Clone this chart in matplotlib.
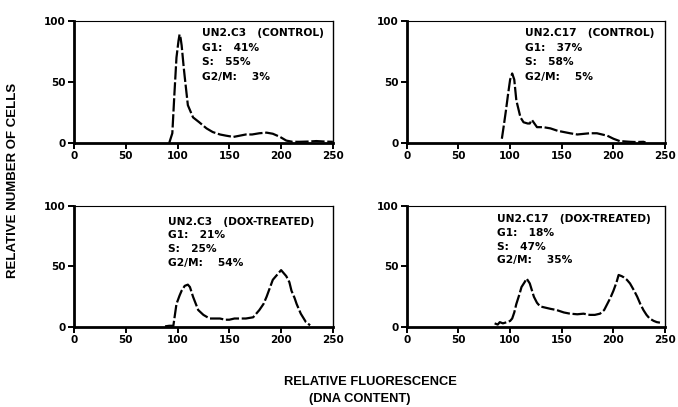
import matplotlib.pyplot as plt

plt.rcParams['font.family'] = ['DejaVu Sans']

# DNA histograms (relative fluorescence, relative number of cells)
c3_ctrl_x = [92, 95, 97, 99, 101, 102, 103, 104, 106, 107, 110, 115, 121, 128, 134, 141, 147,
             154, 160, 166, 172, 179, 186, 192, 199, 205, 211, 218, 226, 234, 242, 250]
c3_ctrl_y = [0, 8, 40, 70, 84, 89, 86, 80, 62, 54, 31, 21, 17, 12, 9, 7, 6,
             5, 6, 7, 7, 8, 8.5, 7.6, 5, 2, 1, 1, 1.2, 1.6, 1.2, 1]

c17_ctrl_x = [92, 94, 96, 98, 100, 102, 104, 106, 110, 113, 117, 119, 121, 126, 132, 139, 146,
              152, 158, 165, 171, 177, 184, 189, 194, 200, 206, 216, 222, 229, 231]
c17_ctrl_y = [3.5, 15, 27, 40, 52, 57, 52, 35, 21, 17, 16, 16, 19, 13, 13, 12, 10,
              9, 8, 7, 7.5, 8, 8, 7, 6, 3.5, 1.6, 1, 0.8, 1, 0.5]

c3_dox_x = [88, 92, 96, 99, 102, 104, 107, 110, 112, 115, 120, 125, 131, 136, 141, 146, 150,
            155, 160, 166, 173, 179, 183, 186, 189, 192, 195, 197, 200, 203, 205, 208, 210,
            213, 215, 219, 224, 228]
c3_dox_y = [0.5, 1, 1, 19, 26, 30, 34, 35, 33, 25, 14, 10, 7, 7, 7, 6, 6,
            7, 7, 7, 8, 14, 19, 25, 32, 39, 42, 44, 47, 44, 42, 37, 30,
            24, 19, 11, 4, 1.4]

c17_dox_x = [85, 88, 90, 93, 97, 100, 102, 104, 106, 109, 111, 114, 116, 119, 123, 126, 129,
             134, 139, 145, 152, 158, 165, 171, 177, 182, 187, 191, 194, 197, 200, 203, 205,
             208, 210, 213, 216, 220, 223, 226, 229, 232, 235, 239, 242, 245]
c17_dox_y = [3, 2, 4, 3, 4, 5, 7, 12, 19, 27, 33, 37, 40, 36, 25, 20, 17,
             16, 15, 14, 12, 11, 10.5, 11, 10, 10, 11, 14, 19, 24, 30, 37, 43,
             42, 41, 39, 36, 30, 25, 19, 14, 10, 7, 5, 4, 3.6]

panel_x = [c3_ctrl_x, c17_ctrl_x, c3_dox_x, c17_dox_x]
panel_y = [c3_ctrl_y, c17_ctrl_y, c3_dox_y, c17_dox_y]
panel_titles = ['UN2.C3   (CONTROL)', 'UN2.C17   (CONTROL)',
                'UN2.C3   (DOX-TREATED)', 'UN2.C17   (DOX-TREATED)']
g1 = ['41%', '37%', '21%', '18%']
s_phase = ['55%', '58%', '25%', '47%']
g2m = ['3%', '5%', '54%', '35%']

x_ticks = [0, 50, 100, 150, 200, 250]
y_ticks = [0, 50, 100]

fig = plt.figure(figsize=(6.78, 4.07), dpi=100)
rects = [
    [0.109, 0.6486, 0.382, 0.2998],
    [0.600, 0.6486, 0.381, 0.2998],
    [0.109, 0.1966, 0.382, 0.2973],
    [0.600, 0.1966, 0.381, 0.2973],
]
text_pos = [(124, 90), (114, 90), (91, 87), (87, 89)]
line_gap = [12.0, 12.0, 11.3, 11.3]

for i, r in enumerate(rects):
    ax = fig.add_axes(r)
    ax.plot(panel_x[i], panel_y[i], color='black', lw=1.6, linestyle=(0, (6, 1.2)))
    ax.set_xlim(0, 250)
    ax.set_ylim(0, 100)
    ax.set_xticks(x_ticks)
    ax.set_yticks(y_ticks)
    ax.tick_params(direction='out', length=4, width=1.4, labelsize=7.5, pad=2)
    for lab in ax.get_xticklabels() + ax.get_yticklabels():
        lab.set_fontweight('bold')
    ax.spines['left'].set_linewidth(2)
    ax.spines['bottom'].set_linewidth(2)
    ax.spines['top'].set_linewidth(0.8)
    ax.spines['right'].set_linewidth(1.0)
    tx, ty = text_pos[i]
    lines = [panel_titles[i], 'G1:   ' + g1[i], 'S:   ' + s_phase[i], 'G2/M:    ' + g2m[i]]
    for k, t in enumerate(lines):
        ax.text(tx, ty - k * line_gap[i], t, fontsize=7.7, fontweight='bold', va='center', ha='left')

label_font = ['Liberation Sans', 'DejaVu Sans']
fig.text(0.019, 0.557, 'RELATIVE NUMBER OF CELLS', rotation=90, ha='center', va='center',
         fontsize=9.5, fontweight='bold', family=label_font)
fig.text(0.546, 0.062, 'RELATIVE FLUORESCENCE', ha='center', va='center', fontsize=9.3,
         fontweight='bold', family=label_font)
fig.text(0.531, 0.020, '(DNA CONTENT)', ha='center', va='center', fontsize=9.3,
         fontweight='bold', family=label_font)

fig.savefig('out.png', dpi=100)
